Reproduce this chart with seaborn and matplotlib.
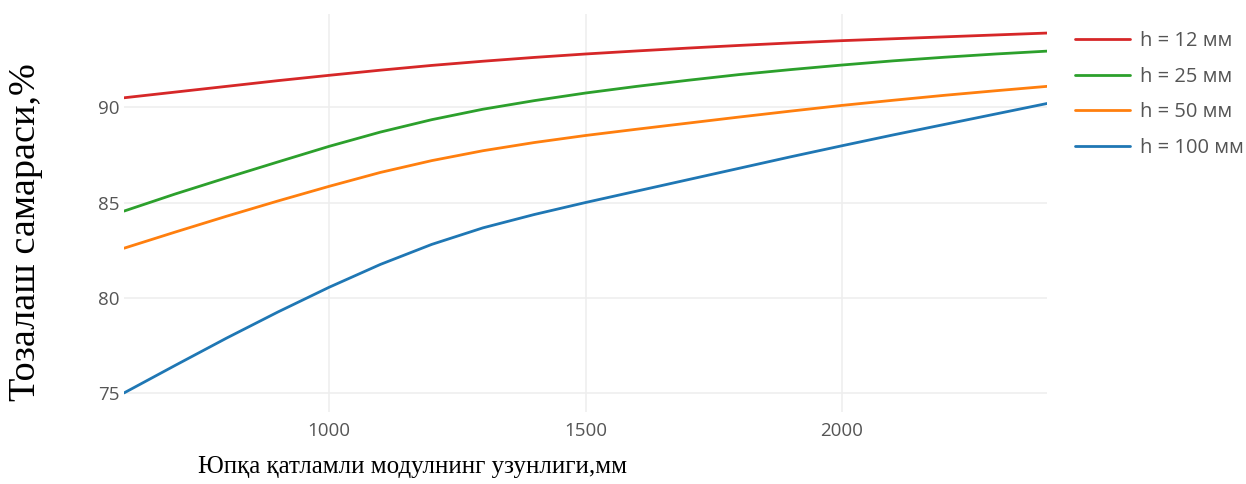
import matplotlib
matplotlib.use('Agg')
import matplotlib.pyplot as plt
import seaborn as sns
import pandas as pd

# module length, mm
lengths = [600, 700, 800, 900, 1000, 1100, 1200, 1300, 1400, 1500,
           1600, 1700, 1800, 1900, 2000, 2100, 2200, 2300, 2400]

# cleaning efficiency, % for each layer height
eff_h12 = [90.5, 90.8, 91.1, 91.4, 91.68, 91.95, 92.2, 92.42, 92.62, 92.8,
           92.96, 93.11, 93.25, 93.38, 93.5, 93.6, 93.7, 93.8, 93.9]
eff_h25 = [84.55, 85.45, 86.3, 87.13, 87.95, 88.7, 89.35, 89.9, 90.35, 90.75,
           91.1, 91.42, 91.72, 91.98, 92.22, 92.44, 92.63, 92.8, 92.95]
eff_h50 = [82.6, 83.45, 84.28, 85.08, 85.85, 86.58, 87.2, 87.72, 88.15, 88.52,
           88.85, 89.17, 89.49, 89.8, 90.1, 90.37, 90.63, 90.87, 91.1]
eff_h100 = [75.0, 76.45, 77.88, 79.25, 80.55, 81.75, 82.8, 83.67, 84.37, 85.0,
            85.6, 86.2, 86.8, 87.4, 87.98, 88.55, 89.1, 89.65, 90.2]

series_names = ['h = 12 мм', 'h = 25 мм', 'h = 50 мм', 'h = 100 мм']
colors = ['#d62728', '#2ca02c', '#ff7f0e', '#1f77b4']

rows = []
for name, vals in zip(series_names, [eff_h12, eff_h25, eff_h50, eff_h100]):
    for x, y in zip(lengths, vals):
        rows.append({'length': x, 'eff': y, 'series': name})
df = pd.DataFrame(rows)

sns.set_style('white')
plt.rcParams['font.family'] = ['Open Sans', 'DejaVu Sans']

fig = plt.figure(figsize=(12.46, 4.84), dpi=100)
ax = fig.add_axes([124 / 1246, 1 - 412 / 484, (1047 - 124) / 1246, (412 - 14) / 484])

sns.lineplot(data=df, x='length', y='eff', hue='series', hue_order=series_names,
             palette=colors, linewidth=2.0, ax=ax)

ax.set_xlim(600, 2400)
ax.set_ylim(74.0, 94.9)
ax.set_xticks([1000, 1500, 2000])
ax.set_yticks([75, 80, 85, 90])
ax.grid(True, color='#eeeeee', linewidth=1.1)
ax.set_axisbelow(True)
for s in ax.spines.values():
    s.set_visible(False)
ax.tick_params(axis='both', length=0, labelsize=13.5, labelcolor='#555555')
ax.tick_params(axis='x', pad=7)
ax.tick_params(axis='y', pad=3.5)
ax.set_xlabel('')
ax.set_ylabel('')

leg = ax.legend(loc='upper left', bbox_to_anchor=(1075 / 1246, 1 - 31 / 484),
                bbox_transform=fig.transFigure, frameon=False, fontsize=14.5,
                handlelength=2.75, handletextpad=0.5, labelspacing=0.78,
                borderaxespad=0, borderpad=0)
for t in leg.get_texts():
    t.set_color('#555555')

fig.text(413 / 1246, 1 - 467 / 484, 'Юпқа қатламли модулнинг узунлиги,мм',
         family='Liberation Serif', fontsize=18, ha='center', va='center', color='black')
fig.text(26 / 1246, 1 - 232 / 484, 'Тозалаш самараси,%',
         family='Liberation Serif', fontsize=27.5, rotation=90, ha='center', va='center', color='black')

fig.savefig('out.png', dpi=100)
